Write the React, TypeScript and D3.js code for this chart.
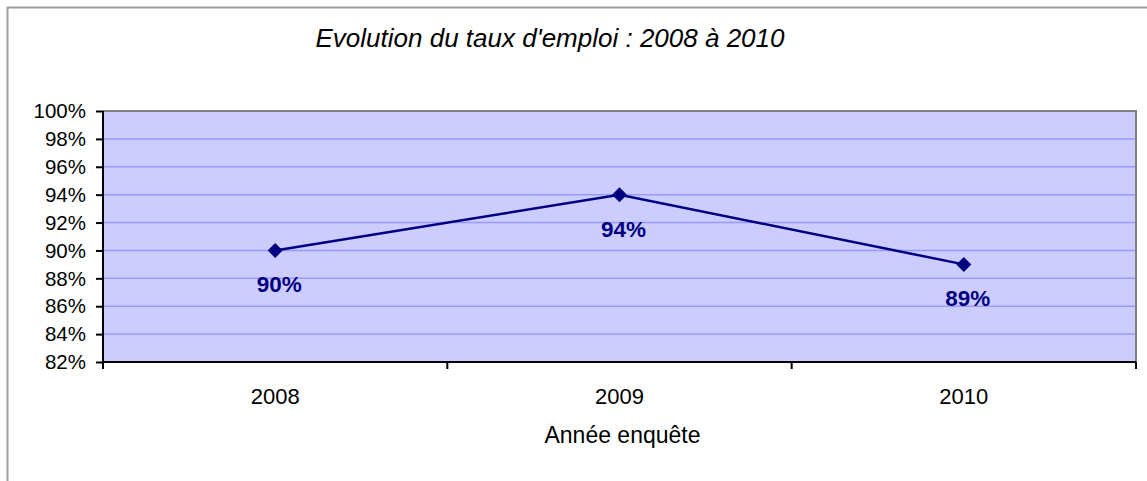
import * as d3 from "d3";
import { useEffect, useRef } from "react";

const years = ["2008", "2009", "2010"];
const rates = [0.9, 0.94, 0.89];
const yTicks = [0.82, 0.84, 0.86, 0.88, 0.9, 0.92, 0.94, 0.96, 0.98, 1.0];

const W = 1147;
const H = 481;

export default function App() {
	const svgRef = useRef<SVGSVGElement>(null);

	useEffect(() => {
		const margin = { top: 111, right: 11, bottom: 119, left: 103 };
		const width = W - margin.left - margin.right;
		const height = H - margin.top - margin.bottom;
		const font = "Arial, 'Liberation Sans', sans-serif";

		const root = d3.select(svgRef.current).html("");

		// outer chart frame (only left + top visible)
		root.append("path")
			.attr("d", `M7.5,${H} V7.5 H${W}`)
			.attr("fill", "none")
			.attr("stroke", "#a0a0a0")
			.attr("stroke-width", 2);

		root.append("text")
			.attr("x", 550)
			.attr("y", 47)
			.attr("text-anchor", "middle")
			.attr("font-family", font)
			.attr("font-style", "italic")
			.attr("font-size", 26)
			.attr("fill", "#000")
			.text("Evolution du taux d'emploi : 2008 à 2010");

		const svg = root.append("g").attr("transform", `translate(${margin.left},${margin.top})`);

		const x = d3.scaleBand().domain(years).range([0, width]);
		const y = d3.scaleLinear().domain([0.82, 1.0]).range([height, 0]);

		svg.append("rect")
			.attr("width", width)
			.attr("height", height)
			.attr("fill", "#ccccff");

		// grid
		svg.append("g")
			.selectAll("line")
			.data(yTicks.slice(1, -1))
			.join("line")
			.attr("x1", 0)
			.attr("x2", width)
			.attr("y1", (d) => y(d))
			.attr("y2", (d) => y(d))
			.attr("stroke", "#9999ff")
			.attr("stroke-width", 1.5);

		// plot area border top/right
		svg.append("path")
			.attr("d", `M0,0 H${width} V${height}`)
			.attr("fill", "none")
			.attr("stroke", "#808080")
			.attr("stroke-width", 2);

		// y axis
		const yAxis = svg.append("g")
			.call(d3.axisLeft(y).tickValues(yTicks).tickSize(7).tickPadding(10).tickFormat(d3.format(".0%")));
		yAxis.select(".domain").attr("stroke", "#000").attr("stroke-width", 2).attr("d", `M0,0 V${height}`);
		yAxis.selectAll(".tick line").attr("stroke", "#000").attr("stroke-width", 2);
		yAxis.selectAll("text")
			.attr("font-family", font)
			.attr("font-size", 20.5)
			.attr("fill", "#000")
			.attr("dy", "0.33em");

		// x axis
		const xAxis = svg.append("g").attr("transform", `translate(0,${height})`);
		xAxis.append("line")
			.attr("x1", 0)
			.attr("x2", width)
			.attr("stroke", "#000")
			.attr("stroke-width", 2);
		const edges = years.map((d) => x(d)!).concat([width]);
		xAxis.selectAll(".xt")
			.data(edges)
			.join("line")
			.attr("class", "xt")
			.attr("x1", (d) => d)
			.attr("x2", (d) => d)
			.attr("y1", 0)
			.attr("y2", 7)
			.attr("stroke", "#000")
			.attr("stroke-width", 2);
		xAxis.selectAll(".xl")
			.data(years)
			.join("text")
			.attr("class", "xl")
			.attr("x", (d) => x(d)! + x.bandwidth() / 2)
			.attr("y", 42)
			.attr("text-anchor", "middle")
			.attr("font-family", font)
			.attr("font-size", 22)
			.text((d) => d);
		xAxis.append("text")
			.attr("x", width / 2 + 3)
			.attr("y", 81)
			.attr("text-anchor", "middle")
			.attr("font-family", font)
			.attr("font-size", 23)
			.text("Année enquête");

		const pts = years.map((yr, i) => ({ yr, v: rates[i] }));
		const line = d3
			.line<{ yr: string; v: number }>()
			.x((d) => x(d.yr)! + x.bandwidth() / 2)
			.y((d) => y(d.v));

		svg.append("path")
			.datum(pts)
			.attr("fill", "none")
			.attr("stroke", "#000080")
			.attr("stroke-width", 2.5)
			.attr("d", line);

		svg.selectAll(".mk")
			.data(pts)
			.join("path")
			.attr("class", "mk")
			.attr("d", "M0,-7.5 L7.5,0 L0,7.5 L-7.5,0 Z")
			.attr("fill", "#000080")
			.attr("transform", (d) => `translate(${x(d.yr)! + x.bandwidth() / 2},${y(d.v)})`);

		svg.selectAll(".lbl")
			.data(pts)
			.join("text")
			.attr("class", "lbl")
			.attr("x", (d) => x(d.yr)! + x.bandwidth() / 2 + 4)
			.attr("y", (d) => y(d.v) + 42)
			.attr("text-anchor", "middle")
			.attr("font-family", font)
			.attr("font-weight", "bold")
			.attr("font-size", 22.5)
			.attr("fill", "#000080")
			.text((d) => d3.format(".0%")(d.v));
	}, []);

	return (
		<svg
			ref={svgRef}
			width={W}
			height={H}
			style={{ position: "absolute", left: 0, top: 0, background: "#fff" }}
		/>
	);
}
